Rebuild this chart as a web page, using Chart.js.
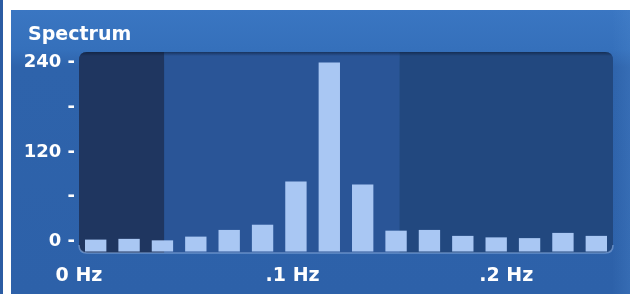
<!DOCTYPE html>
<html>
<head>
<meta charset="utf-8">
<script src="https://cdn.jsdelivr.net/npm/chart.js@4/dist/chart.umd.min.js"></script>
<style>
html,body{margin:0;padding:0;background:#fff;}
#wrap{width:630px;height:294px;}
</style>
</head>
<body>
<div id="wrap"><canvas id="c" width="630" height="294"></canvas></div>
<script>
// ---- data ----
const binLabels = ['0.008','0.023','0.039','0.055','0.070','0.086','0.102','0.117','0.133','0.148','0.164','0.180','0.195','0.211','0.227','0.242'];
const spectrumValues = [1, 2, 0, 5, 14, 21, 79, 239, 75, 13, 14, 6, 4, 3, 10, 6];
const yTickValues = [0, 60, 120, 180, 240];
const yTickLabels = ['0 -', '-', '120 -', '-', '240 -'];
const xTickValues = [0, 0.1, 0.2];
const xTickLabels = ['0 Hz', '.1 Hz', '.2 Hz'];
const bandEdges = [0, 0.04, 0.15, 0.25];
const bandColors = ['#1f3660', '#2a5597', '#22487f'];
const chartTitle = 'Spectrum';

function roundRect(ctx, x, y, w, h, r) {
  ctx.beginPath();
  ctx.moveTo(x + r, y);
  ctx.lineTo(x + w - r, y);
  ctx.quadraticCurveTo(x + w, y, x + w, y + r);
  ctx.lineTo(x + w, y + h - r);
  ctx.quadraticCurveTo(x + w, y + h, x + w - r, y + h);
  ctx.lineTo(x + r, y + h);
  ctx.quadraticCurveTo(x, y + h, x, y + h - r);
  ctx.lineTo(x, y + r);
  ctx.quadraticCurveTo(x, y, x + r, y);
  ctx.closePath();
}

const panelPlugin = {
  id: 'panel',
  beforeDraw(chart) {
    const ctx = chart.ctx;
    const W = chart.width, H = chart.height;
    const a = chart.chartArea;
    ctx.save();
    ctx.fillStyle = '#ffffff';
    ctx.fillRect(0, 0, W, H);
    // left strip
    ctx.fillStyle = '#2b5ca3';
    ctx.fillRect(0, 0, 3, H);
    // panel
    const g = ctx.createLinearGradient(0, 10, 0, H);
    g.addColorStop(0, '#3a76c2');
    g.addColorStop(0.14, '#3570bb');
    g.addColorStop(0.2, '#2e63ab');
    g.addColorStop(1, '#2d61a9');
    ctx.fillStyle = g;
    ctx.fillRect(11, 10, W - 11, H - 10);
    // right lighter strip
    const g2 = ctx.createLinearGradient(612, 0, 630, 0);
    g2.addColorStop(0, 'rgba(80,140,210,0)');
    g2.addColorStop(1, 'rgba(80,140,210,0.25)');
    ctx.fillStyle = g2;
    ctx.fillRect(612, 10, 18, H - 10);
    // title
    ctx.fillStyle = '#ffffff';
    ctx.font = 'bold 19px "DejaVu Sans"';
    ctx.textBaseline = 'alphabetic';
    ctx.textAlign = 'left';
    ctx.fillText(chartTitle, 28, 40);
    // plot area bands
    const fx = chart.scales.freq;
    const r = 8;
    ctx.save();
    roundRect(ctx, a.left, a.top, a.right - a.left, a.bottom - a.top, r);
    ctx.clip();
    for (let i = 0; i < bandColors.length; i++) {
      const x0 = fx.getPixelForValue(bandEdges[i]);
      const x1 = fx.getPixelForValue(bandEdges[i + 1]);
      ctx.fillStyle = bandColors[i];
      ctx.fillRect(x0, a.top, x1 - x0, a.bottom - a.top);
    }
    // inner top shadow
    const gs = ctx.createLinearGradient(0, a.top, 0, a.top + 4);
    gs.addColorStop(0, 'rgba(10,25,50,0.55)');
    gs.addColorStop(1, 'rgba(10,25,50,0)');
    ctx.fillStyle = gs;
    ctx.fillRect(a.left, a.top, a.right - a.left, 4);
    ctx.restore();
    // bottom light edge
    ctx.strokeStyle = 'rgba(140,175,225,0.6)';
    ctx.lineWidth = 1.5;
    ctx.beginPath();
    ctx.moveTo(a.left, a.bottom - r);
    ctx.quadraticCurveTo(a.left, a.bottom, a.left + r, a.bottom);
    ctx.lineTo(a.right - r, a.bottom);
    ctx.quadraticCurveTo(a.right, a.bottom, a.right, a.bottom - r);
    ctx.stroke();
    ctx.restore();
  }
};

Chart.defaults.font.family = '"DejaVu Sans", sans-serif';
Chart.defaults.color = '#ffffff';

new Chart(document.getElementById('c'), {
  type: 'bar',
  data: {
    labels: binLabels,
    datasets: [{
      data: spectrumValues,
      backgroundColor: '#a9c7f3',
      borderWidth: 0,
      base: -15,
      categoryPercentage: 1,
      barPercentage: 0.64
    }]
  },
  options: {
    responsive: false,
    animation: false,
    devicePixelRatio: 1,
    layout: { padding: { left: 11, top: 52, right: 17, bottom: 0 } },
    plugins: { legend: { display: false }, tooltip: { enabled: false }, title: { display: false } },
    scales: {
      x: { type: 'category', display: false, offset: true },
      freq: {
        type: 'linear', position: 'bottom', min: 0, max: 0.25, offset: false, grace: 0,
        grid: { display: false, drawTicks: false }, border: { display: false },
        afterBuildTicks: s => { s.ticks = xTickValues.map(v => ({ value: v })); },
        afterFit: s => { s.height = 41; },
        ticks: {
          color: '#ffffff', padding: 12, maxRotation: 0, autoSkip: false,
          font: { size: 19, weight: 'bold' },
          callback: (v) => { const i = xTickValues.findIndex(t => Math.abs(t - v) < 1e-9); return i >= 0 ? xTickLabels[i] : ''; }
        }
      },
      y: {
        min: -17, max: 253,
        grid: { display: false, drawTicks: false }, border: { display: false },
        afterBuildTicks: s => { s.ticks = yTickValues.map(v => ({ value: v })); },
        afterFit: s => { s.width = 68; },
        ticks: {
          color: '#ffffff', padding: 4, autoSkip: false, labelOffset: 1,
          font: { size: 18, weight: 'bold' },
          callback: (v) => { const i = yTickValues.indexOf(v); return i >= 0 ? yTickLabels[i] : ''; }
        }
      }
    }
  },
  plugins: [panelPlugin]
});
</script>
</body>
</html>
